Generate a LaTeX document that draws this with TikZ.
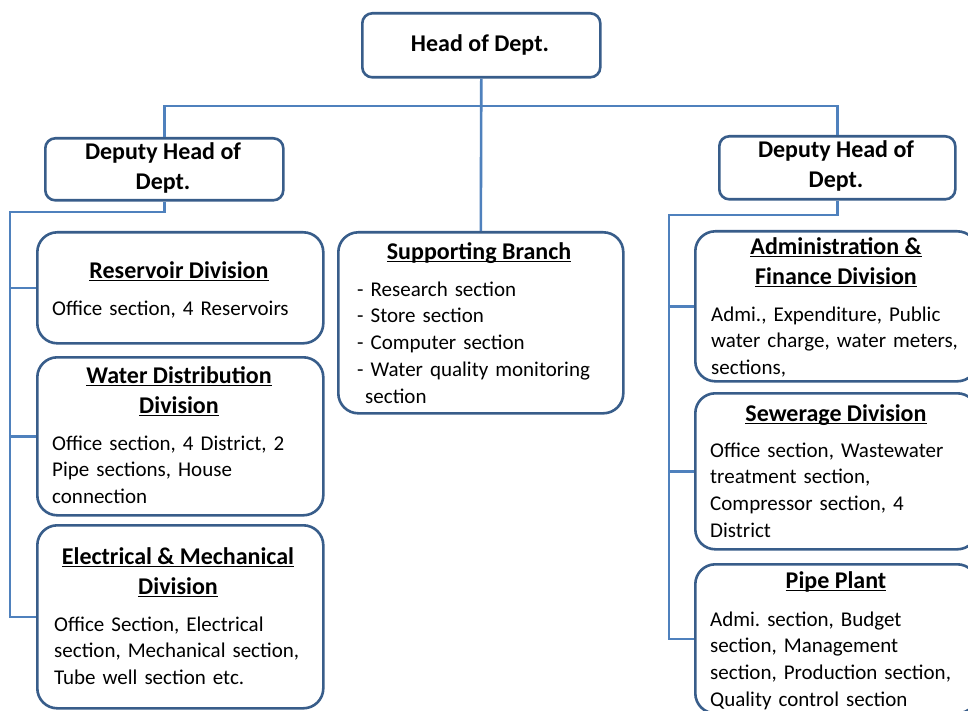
\documentclass[tikz,border=0pt]{standalone}
\usepackage{fontspec}
\setmainfont{Carlito}
\frenchspacing
\definecolor{bordc}{RGB}{56,93,138}
\definecolor{connc}{RGB}{79,129,189}
\newcommand\hul[1]{\setbox0\hbox{#1}\rlap{\rule[-3.2pt]{\wd0}{1.5pt}}\box0}
\begin{document}
\begin{tikzpicture}[x=1pt,y=-1pt,
  box/.style={draw=bordc, line width=2.6pt, rounded corners=#1, inner sep=0pt, anchor=north west},
  box/.default=20pt,
  conn/.style={draw=connc, line width=2.6pt},
  hd/.style={font=\fontsize{24}{30}\selectfont\bfseries, inner sep=0pt, align=center, anchor=base},
  bd/.style={font=\fontsize{21}{26.8}\selectfont, inner sep=0pt, align=left, anchor=base west, text width=300pt}]
\useasboundingbox (0,0) rectangle (968,711);
\clip (0,0) rectangle (968,711);
\fill[white] (0,0) rectangle (968,711);

% boxes
\node[box=10pt, minimum width=238pt, minimum height=64pt] (head) at (361,12) {};
\node[box=10pt, minimum width=238pt, minimum height=62pt] (dl) at (44,137) {};
\node[box=10pt, minimum width=236pt, minimum height=63pt] (dr) at (718,135) {};
\node[box, minimum width=286pt, minimum height=111pt] (res) at (36,231) {};
\node[box, minimum width=286pt, minimum height=158pt] (wat) at (36,356) {};
\node[box, minimum width=286pt, minimum height=183pt] (ele) at (36,524) {};
\node[box, minimum width=285pt, minimum height=181pt] (sup) at (337,231) {};
\node[box, minimum width=282pt, minimum height=150pt] (adm) at (694,230) {};
\node[box, minimum width=282pt, minimum height=156pt] (sew) at (694,392) {};
\node[box, minimum width=282pt, minimum height=149pt] (pip) at (694,563) {};

% connectors
\coordinate (hj) at (480,106);
\coordinate (lj) at (10,212);
\coordinate (rj) at (669,215);
\draw[conn] (head.south) -- (sup.north);
\draw[conn] (dl.north) -- (dl.north |- hj) -- (dr.north |- hj) -- (dr.north);
\draw[conn] (dl.south) |- (lj) |- (res.west);
\draw[conn] (lj) |- (wat.west);
\draw[conn] (lj) |- (ele.west);
\draw[conn] (dr.south) |- (rj) |- (adm.west);
\draw[conn] (rj) |- (sew.west);
\draw[conn] (rj) |- (pip.west);

% texts (two-line headings are placed by the baseline of their last line)
\node[hd] (headt) at (480,52) {Head of Dept.};
\node[hd] (dlt) at (163,190) {Deputy Head of\\Dept.};
\node[hd] (drt) at (836,188) {Deputy Head of\\Dept.};

\node[hd] (rest) at (179,278) {\hul{Reservoir Division}};
\node[bd] (resb) at (52,315) {Office section, 4 Reservoirs};

\node[hd] (watt) at (179,413) {\hul{Water Distribution}\\\hul{Division}};
\node[bd] (watb) at (52,450) {Office section, 4 District, 2\\Pipe sections, House\\connection};

\node[hd] (elet) at (178,594) {\hul{Electrical \& Mechanical}\\\hul{Division}};
\node[bd] (eleb) at (54,631) {Office Section, Electrical\\section, Mechanical section,\\Tube well section etc.};

\node[hd] (supt) at (479,259) {\hul{Supporting Branch}};
\node[bd] (supb) at (357,296) {- Research section\\- Store section\\- Computer section\\- Water quality monitoring\\\hspace*{8pt}section};

\node[hd] (admt) at (836,284) {\hul{Administration \&}\\\hul{Finance Division}};
\node[bd] (admb) at (711,321) {Admi., Expenditure, Public\\water charge, water meters,\\sections,};

\node[hd] (sewt) at (836,421) {\hul{Sewerage Division}};
\node[bd] (sewb) at (710,457) {Office section, Wastewater\\treatment section,\\Compressor section, 4\\District};

\node[hd] (pipt) at (836,588) {\hul{Pipe Plant}};
\node[bd] (pipb) at (710,626) {Admi. section, Budget\\section, Management\\section, Production section,\\Quality control section};
\end{tikzpicture}
\end{document}
